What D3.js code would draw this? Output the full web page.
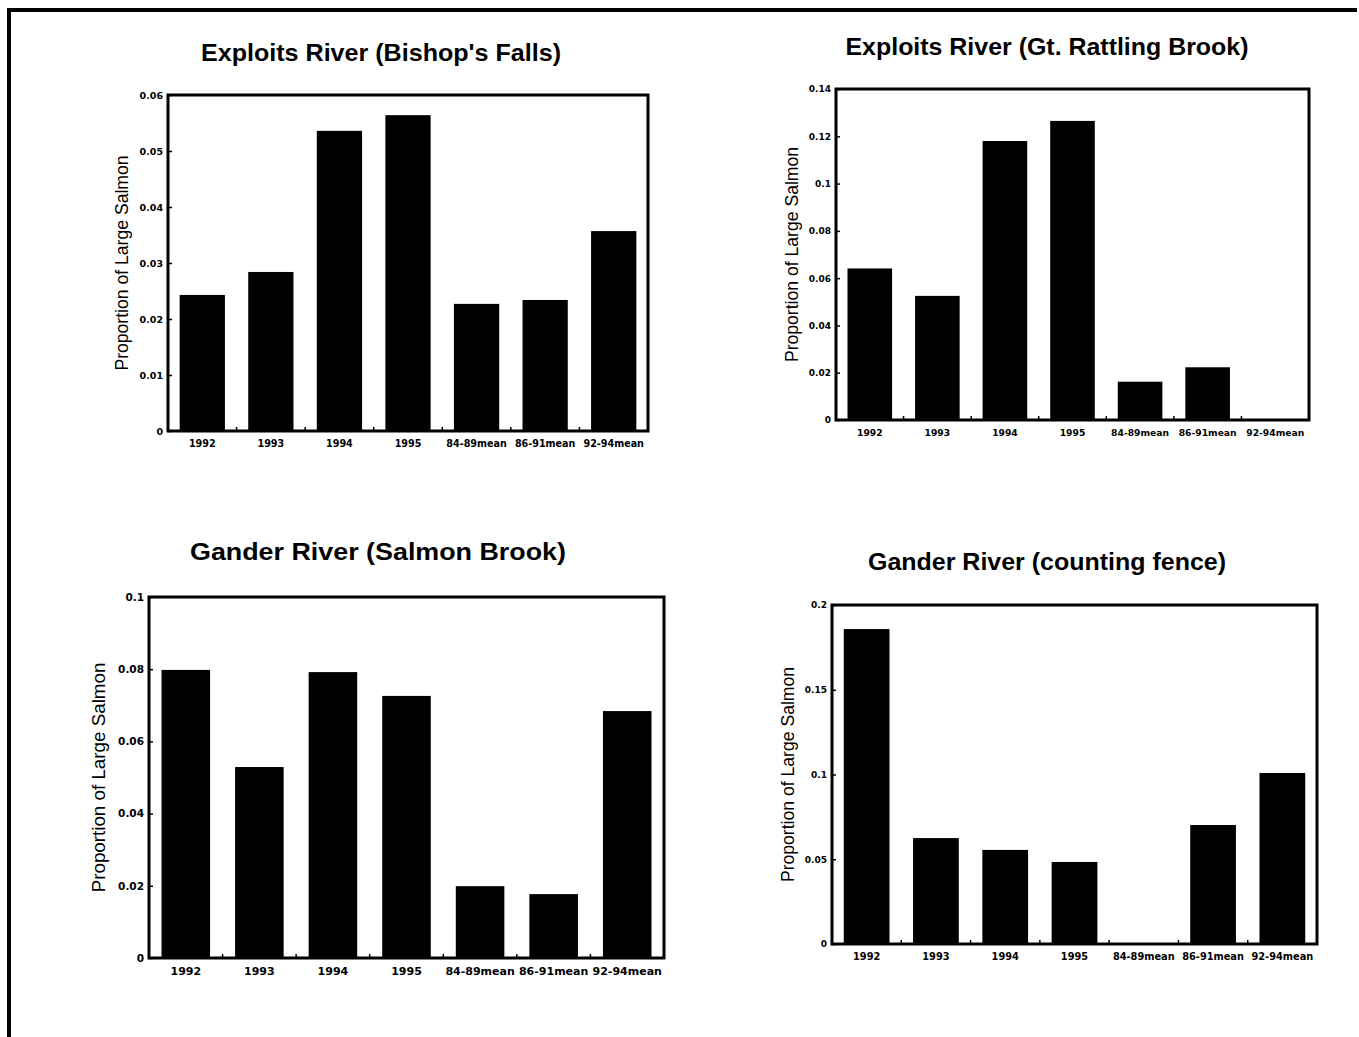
<!DOCTYPE html>
<html>
<head>
<meta charset="utf-8">
<script src="https://cdn.jsdelivr.net/npm/d3@7"></script>
<style>
  html, body { margin: 0; padding: 0; background: #fff; }
  svg { display: block; }
  text { font-family: "Liberation Sans", Arial, sans-serif; fill: #000; }
  .tick text { font-family: "DejaVu Sans", "Liberation Sans", sans-serif; font-weight: bold; }
</style>
</head>
<body>
<svg id="chart" width="1359" height="1037"></svg>
<script>
// ---- data ----
const categories = ["1992", "1993", "1994", "1995", "84-89mean", "86-91mean", "92-94mean"];

const titles = [
  "Exploits River (Bishop's Falls)",
  "Exploits River (Gt. Rattling Brook)",
  "Gander River (Salmon Brook)",
  "Gander River (counting fence)"
];

const bishopsFalls  = [0.0243, 0.0284, 0.0536, 0.0564, 0.0227, 0.0234, 0.0357];
const rattlingBrook = [0.0641, 0.0525, 0.1180, 0.1265, 0.0162, 0.0223, 0.0000];
const salmonBrook   = [0.0798, 0.0529, 0.0792, 0.0726, 0.0199, 0.0177, 0.0684];
const countingFence = [0.1858, 0.0625, 0.0555, 0.0484, 0.0000, 0.0702, 0.1009];

const ticksBishops  = [0, 0.01, 0.02, 0.03, 0.04, 0.05, 0.06];
const ticksRattling = [0, 0.02, 0.04, 0.06, 0.08, 0.1, 0.12, 0.14];
const ticksSalmon   = [0, 0.02, 0.04, 0.06, 0.08, 0.1];
const ticksFence    = [0, 0.05, 0.1, 0.15, 0.2];

const yAxisTitle = "Proportion of Large Salmon";

// ---- layout (positions kept separate from data) ----
const panels = [
  { values: bishopsFalls,  ticks: ticksBishops,  title: titles[0],
    left: 168, top: 95,  right: 648,  bottom: 431, titleX: 381,  titleY: 53,  titleSize: 23, titleW: 360,
    yLabelX: 122, yLabelSize: 17.6, xTickSize: 9.6, yTickSize: 9.5, xLabelDy: 15 },
  { values: rattlingBrook, ticks: ticksRattling, title: titles[1],
    left: 836, top: 89,  right: 1309, bottom: 420, titleX: 1047, titleY: 47,  titleSize: 23, titleW: 403,
    yLabelX: 792, yLabelSize: 17.6, xTickSize: 9.2, yTickSize: 9, xLabelDy: 15 },
  { values: salmonBrook,   ticks: ticksSalmon,   title: titles[2],
    left: 149, top: 597, right: 664,  bottom: 958, titleX: 378,  titleY: 551, titleSize: 24, titleW: 376,
    yLabelX: 98,  yLabelSize: 18.8, xTickSize: 11, yTickSize: 10.5, xLabelDy: 15 },
  { values: countingFence, ticks: ticksFence,    title: titles[3],
    left: 832, top: 605, right: 1317, bottom: 944, titleX: 1047, titleY: 562, titleSize: 23, titleW: 358,
    yLabelX: 788, yLabelSize: 17.6, xTickSize: 9.8, yTickSize: 9, xLabelDy: 15 }
];

const svg = d3.select("#chart");

// page frame (top and left edges)
svg.append("line").attr("x1", 7).attr("x2", 1357).attr("y1", 10).attr("y2", 10)
  .attr("stroke", "#000").attr("stroke-width", 4);
svg.append("line").attr("x1", 9).attr("x2", 9).attr("y1", 8).attr("y2", 1037)
  .attr("stroke", "#000").attr("stroke-width", 4);

panels.forEach(p => {
  const g = svg.append("g");
  const ticks = p.ticks;
  const x = d3.scaleBand().domain(categories).range([p.left, p.right])
    .paddingInner(0.34).paddingOuter(0.17);
  const y = d3.scaleLinear().domain([0, ticks[ticks.length - 1]]).range([p.bottom, p.top]);

  // title
  g.append("text")
    .attr("x", p.titleX).attr("y", p.titleY)
    .attr("text-anchor", "middle").attr("dominant-baseline", "central")
    .attr("textLength", p.titleW).attr("lengthAdjust", "spacingAndGlyphs")
    .style("font-weight", "bold").style("font-size", p.titleSize + "px")
    .text(p.title);

  // bars
  g.selectAll("rect.bar").data(p.values).enter().append("rect")
    .attr("class", "bar")
    .attr("x", (d, i) => x(categories[i]))
    .attr("width", x.bandwidth())
    .attr("y", d => y(d))
    .attr("height", d => p.bottom - y(d))
    .attr("fill", "#000");

  // y axis (ticks pointing inward)
  const yAxis = d3.axisLeft(y).tickValues(ticks).tickSize(-4).tickPadding(5)
    .tickFormat(d => String(+d.toFixed(4)));
  const ya = g.append("g").attr("transform", `translate(${p.left},0)`).call(yAxis);
  ya.attr("font-family", null).attr("font-size", null);
  ya.select(".domain").remove();
  ya.selectAll("line").attr("stroke", "#000").attr("stroke-width", 1.5);
  ya.selectAll("text").style("font-size", p.yTickSize + "px");

  // x axis labels
  const xAxis = d3.axisBottom(x).tickSize(0).tickPadding(p.xLabelDy - 6);
  const xa = g.append("g").attr("transform", `translate(0,${p.bottom})`).call(xAxis);
  xa.attr("font-family", null).attr("font-size", null);
  xa.select(".domain").remove();
  xa.selectAll("text").style("font-size", p.xTickSize + "px").attr("dy", "0.71em");

  // category boundary ticks (pointing inward)
  const bounds = d3.range(1, categories.length).map(i => x.range()[0] + i * x.step());
  g.selectAll("line.bt").data(bounds).enter().append("line")
    .attr("class", "bt")
    .attr("x1", d => d).attr("x2", d => d)
    .attr("y1", p.bottom).attr("y2", p.bottom - 4)
    .attr("stroke", "#000").attr("stroke-width", 1.5);

  // plot frame
  g.append("rect")
    .attr("x", p.left).attr("y", p.top)
    .attr("width", p.right - p.left).attr("height", p.bottom - p.top)
    .attr("fill", "none").attr("stroke", "#000").attr("stroke-width", 3);

  // y axis title
  const cy = (p.top + p.bottom) / 2;
  g.append("text")
    .attr("transform", `translate(${p.yLabelX},${cy}) rotate(-90)`)
    .attr("text-anchor", "middle").attr("dominant-baseline", "central")
    .style("font-size", p.yLabelSize + "px")
    .text(yAxisTitle);
});
</script>
</body>
</html>
